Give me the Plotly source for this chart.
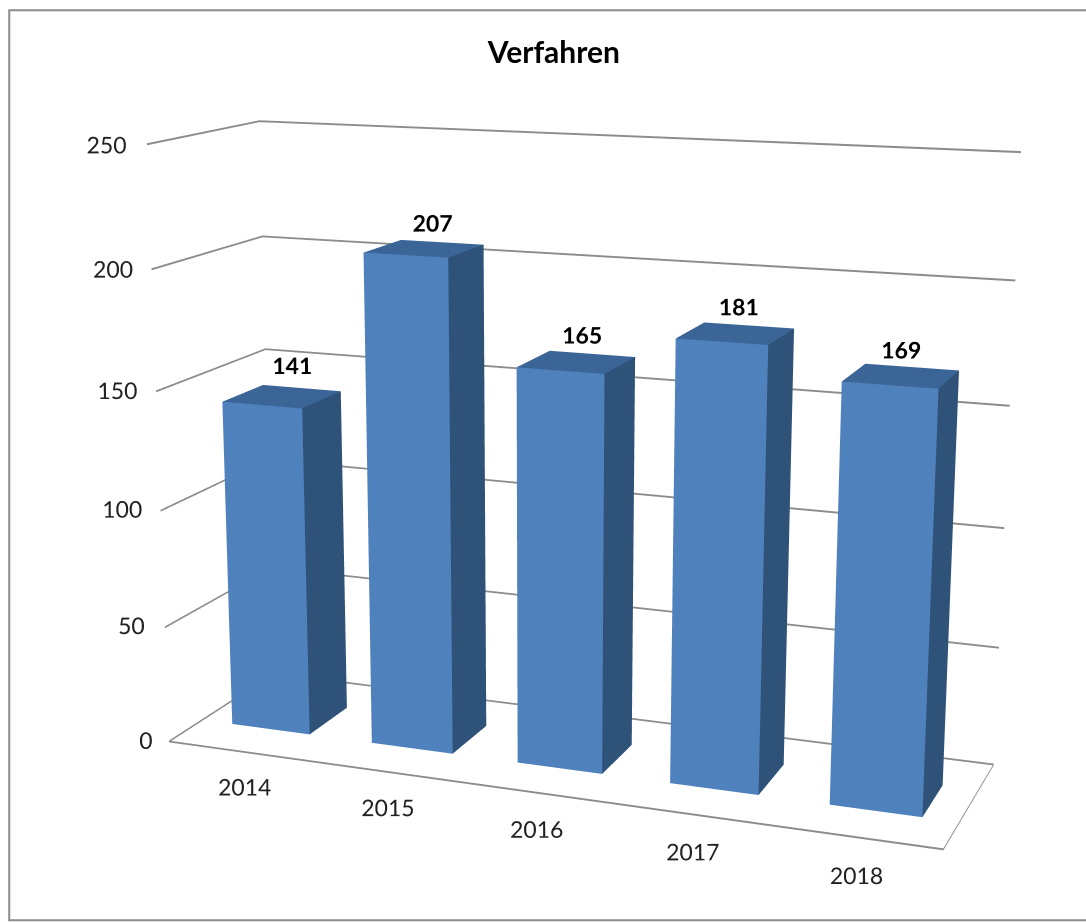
import numpy as np
import plotly.graph_objects as go

years = ["2014", "2015", "2016", "2017", "2018"]
values = [141, 207, 165, 181, 169]
z_ticks = [0, 50, 100, 150, 200, 250]
title = "Verfahren"

FRONT, SIDE, TOP = "#4F81BD", "#2F5279", "#3B6596"
GRID = "#8C8C8C"
FONT = "Lato, 'Open Sans', sans-serif"
BAR_W, BAR_D = 0.56, 0.387
GRID_HALF = 0.4  # half thickness of a grid line, in value units
WALL_Y = 1.02
label_lift = [13.5, 10.5, 11, 10.5, 10]
tick_x = [-.17, -.24, -.27, -.27, -.27, -.28]

L1, L2, L3 = 1.30, 0.375, 0.99
az, el = np.radians(21), np.radians(13.5)
focal = 2500.0
dist = focal / 628
fovy = 2 * np.arctan(461 / focal)
pan_x, pan_z = -0.0528, -0.002
xr, yr, zr = (-0.85, 5.4), (-0.6, 1.4), (-8, 258)

vx, vy, vz, fi, fj, fk, fc = [], [], [], [], [], [], []
def quad(p, color):
    n = len(vx)
    for a, b, c in p:
        vx.append(a); vy.append(b); vz.append(c)
    fi.extend([n, n]); fj.extend([n + 1, n + 2]); fk.extend([n + 2, n + 3]); fc.extend([color, color])

def rule(a, b, t):
    h = GRID_HALF
    quad([(a[0], a[1], t - h), (b[0], b[1], t - h), (b[0], b[1], t + h), (a[0], a[1], t + h)], GRID)

for t in z_ticks:
    rule((0, 0), (0, WALL_Y), t)
    rule((0, WALL_Y), (5, WALL_Y), t)
rule((0, 0), (5, 0), 0)
rule((5, 0), (5, WALL_Y), 0)

for i, v in enumerate(values):
    x0, x1 = i + .5 - BAR_W / 2, i + .5 + BAR_W / 2
    y0, y1 = .5 - BAR_D / 2, .5 + BAR_D / 2
    quad([(x0, y0, 0), (x1, y0, 0), (x1, y0, v), (x0, y0, v)], FRONT)
    quad([(x1, y0, 0), (x1, y1, 0), (x1, y1, v), (x1, y0, v)], SIDE)
    quad([(x0, y0, v), (x1, y0, v), (x1, y1, v), (x0, y1, v)], TOP)

fig = go.Figure()
fig.add_trace(go.Mesh3d(x=vx, y=vy, z=vz, i=fi, j=fj, k=fk, facecolor=fc, flatshading=True,
                        lighting=dict(ambient=1, diffuse=0, specular=0, fresnel=0, roughness=1),
                        hoverinfo="skip", showscale=False))
fig.add_trace(go.Scatter3d(x=[i + .577 - .02 * i for i in range(5)], y=[.5] * 5,
                           z=[v + d for v, d in zip(values, label_lift)], mode="text",
                           text=[f"<b>{v}</b>" for v in values], textposition="middle center",
                           textfont=dict(family=FONT, size=23, color="#000000"), hoverinfo="skip"))
fig.add_trace(go.Scatter3d(x=[i + .83 - .05 * i for i in range(5)], y=[-.38] * 5, z=[0] * 5, mode="text", text=years,
                           textposition="middle center", textfont=dict(family=FONT, size=23, color="#222222"), hoverinfo="skip"))
fig.add_trace(go.Scatter3d(x=tick_x, y=[0] * 6, z=[t - 1 for t in z_ticks], mode="text", text=[str(t) for t in z_ticks],
                           textposition="middle center", textfont=dict(family=FONT, size=23, color="#222222"), hoverinfo="skip"))

unit_x, unit_y, unit_z = L1 / 5, L2, L3 / 250
ax_x = (xr[1] - xr[0]) * unit_x
ax_y = (yr[1] - yr[0]) * unit_y
ax_z = (zr[1] - zr[0]) * unit_z
c = np.array([(2.5 - sum(xr) / 2) * unit_x, (.5 - sum(yr) / 2) * unit_y, 0])
c = c + pan_x * np.array([np.cos(az), np.sin(az), 0]) + np.array([0, 0, pan_z])
eye = c + dist * np.array([np.sin(az) * np.cos(el), -np.cos(az) * np.cos(el), np.sin(el)])

hidden = dict(visible=False, showgrid=False, zeroline=False, showticklabels=False, showspikes=False)
fig.update_layout(
    width=1086, height=922, margin=dict(l=0, r=0, t=0, b=0), paper_bgcolor="white", showlegend=False,
    title=dict(text=f"<b>{title}</b>", x=0.51, xanchor="center", y=0.943, yanchor="middle",
               font=dict(family=FONT, size=30, color="#000000")),
    scene=dict(domain=dict(x=[0, 1], y=[0, 1]),
               xaxis=dict(range=list(xr), **hidden), yaxis=dict(range=list(yr), **hidden),
               zaxis=dict(range=list(zr), **hidden),
               aspectmode="manual", aspectratio=dict(x=ax_x, y=ax_y, z=ax_z),
               camera=dict(eye=dict(x=eye[0], y=eye[1], z=eye[2]), center=dict(x=c[0], y=c[1], z=c[2]),
                           up=dict(x=0, y=0, z=1))),
    shapes=[dict(type="rect", xref="paper", yref="paper", x0=0.0085, x1=1.2, y0=0.002, y1=0.989,
                 line=dict(color="#8C8C8C", width=2))],
)
post = ("document.body.style.margin='0';"
        "var gd=document.getElementById('{plot_id}');"
        "var s=gd._fullLayout.scene._scene.glplot; s.fovy=%f; s.redraw&&s.redraw();" % fovy)
fig.write_html("out.html", post_script=post, config=dict(displayModeBar=False))
